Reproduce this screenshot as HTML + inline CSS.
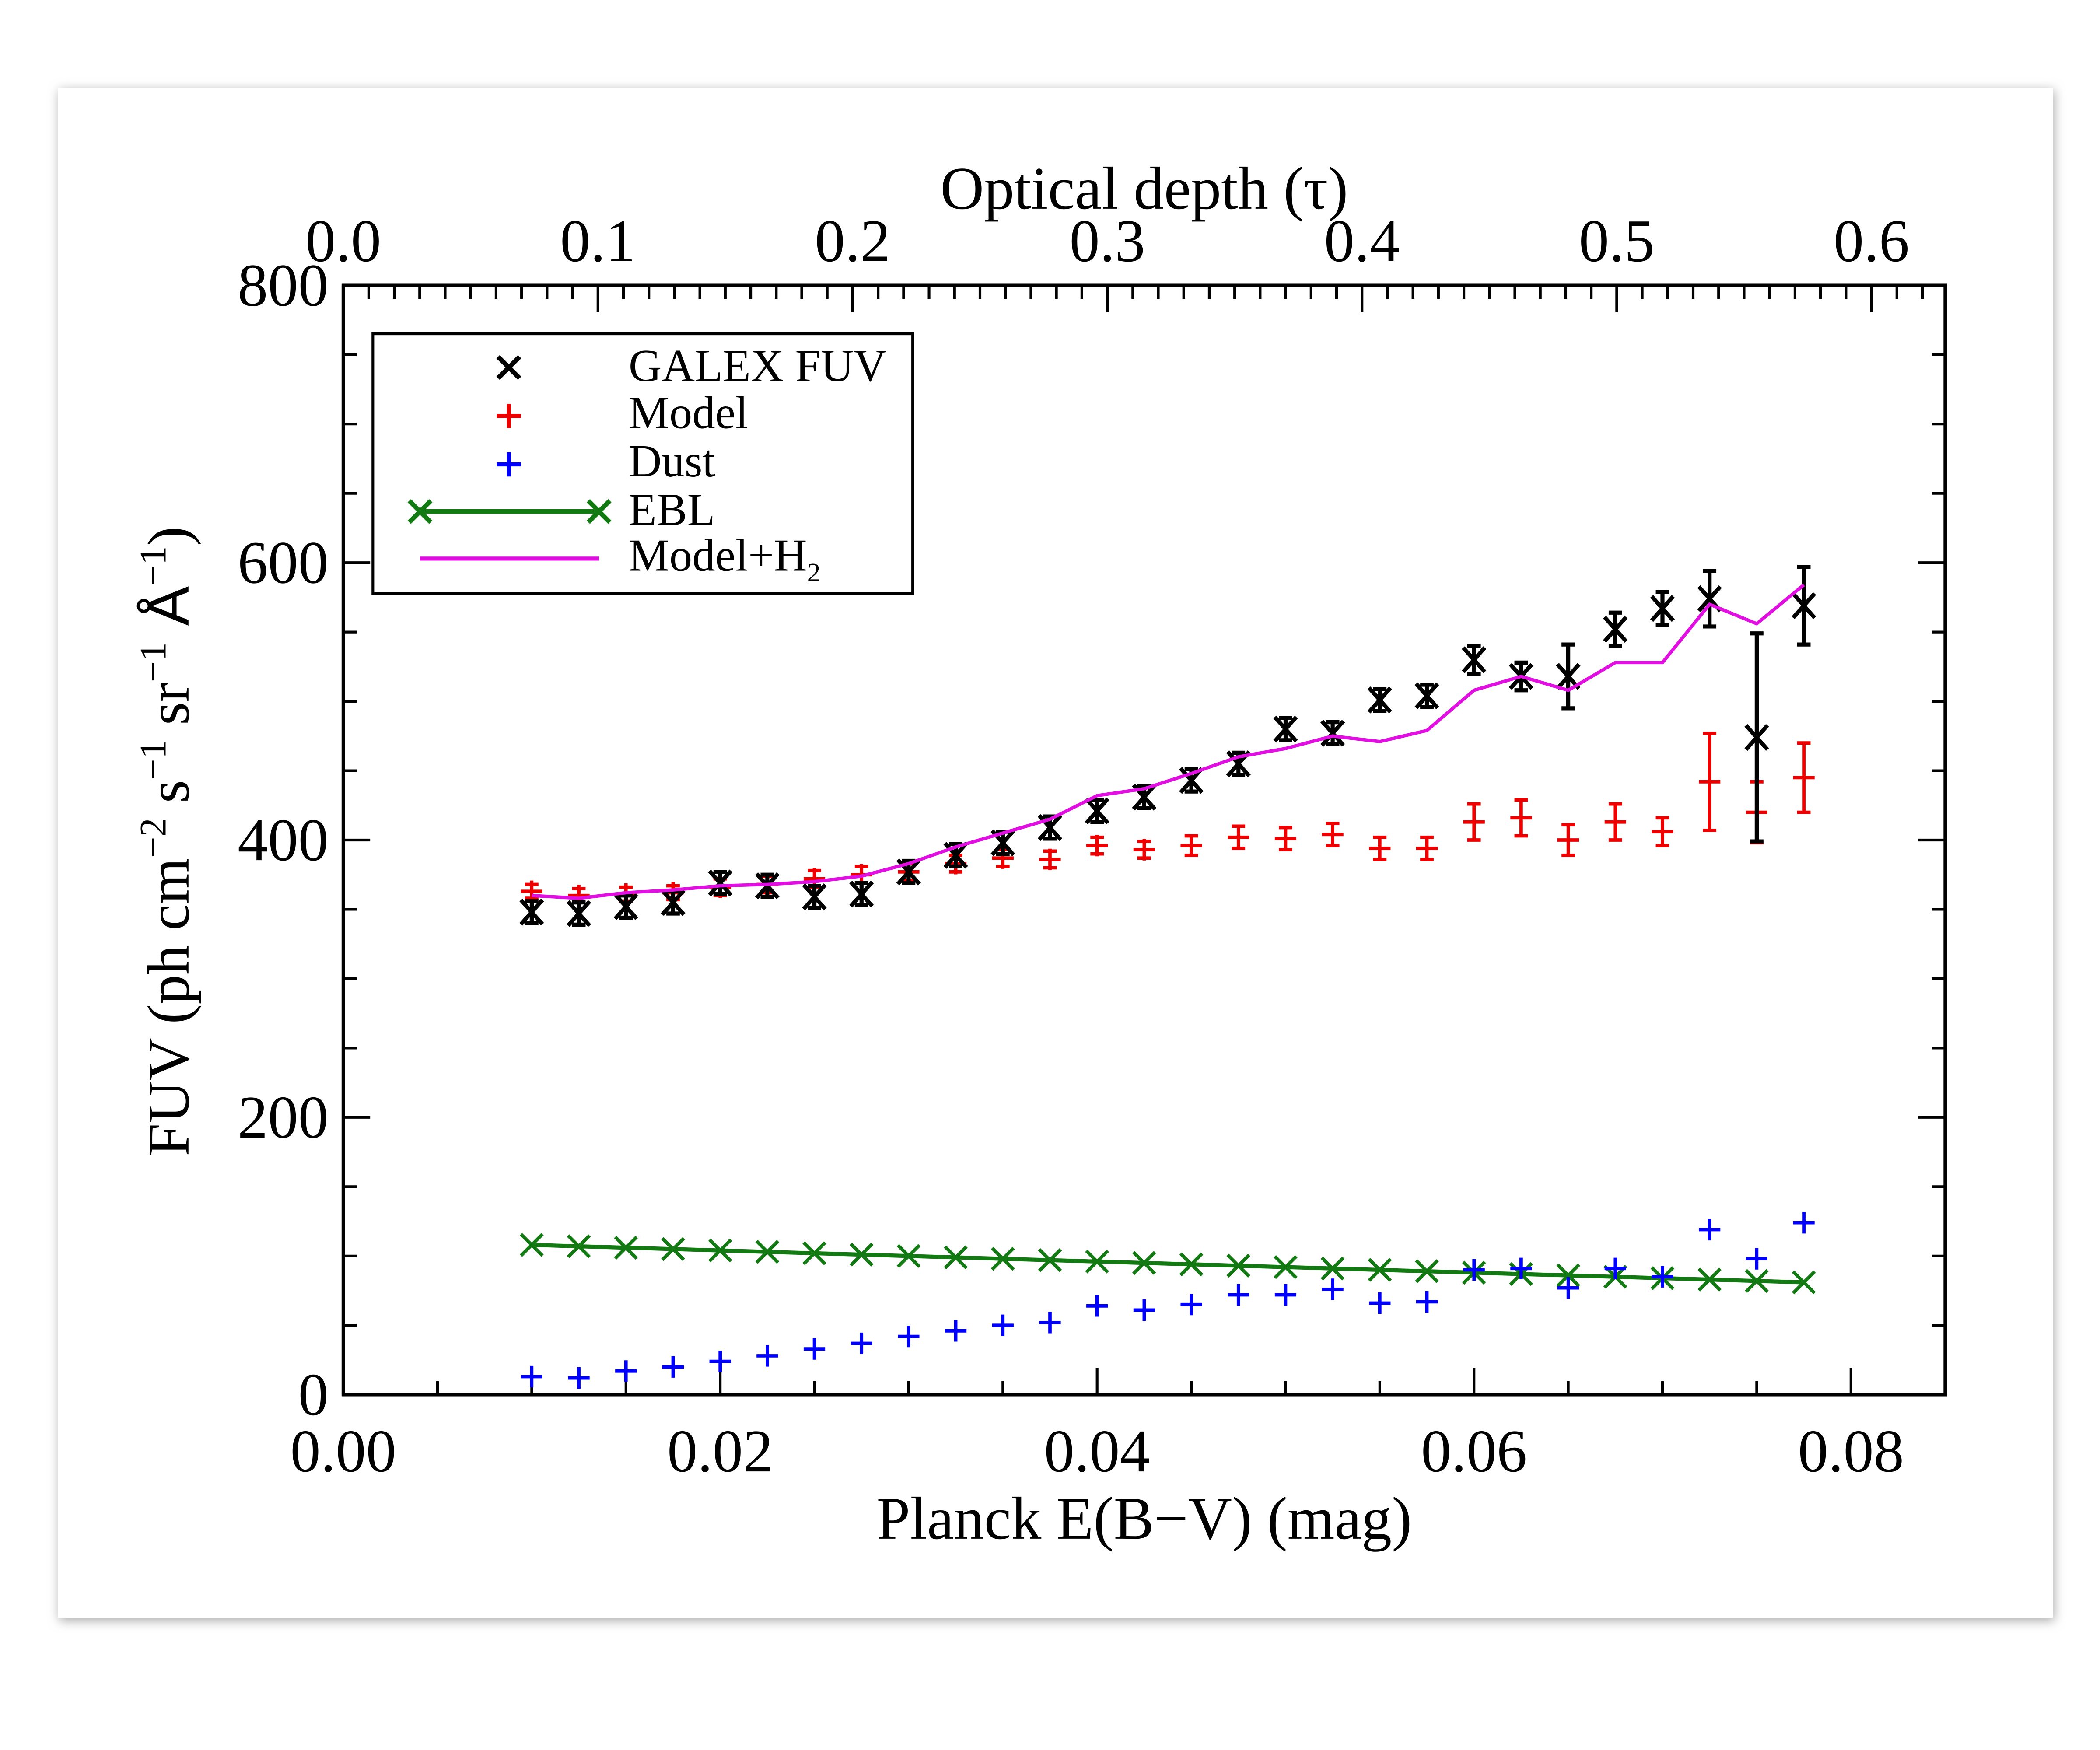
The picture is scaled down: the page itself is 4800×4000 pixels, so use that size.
<!DOCTYPE html>
<html><head><meta charset="utf-8"><style>
html,body{margin:0;padding:0;background:#fff;}
svg{display:block;font-family:"Liberation Serif",serif;}
</style></head><body>
<svg id="chart" width="4800" height="4000" viewBox="0 0 1560 1300" xmlns="http://www.w3.org/2000/svg">
<defs><filter id="sh" x="-5%" y="-5%" width="110%" height="110%"><feGaussianBlur stdDeviation="4"/></filter></defs>
<rect x="44" y="67" width="1482" height="1137" fill="#aaa" filter="url(#sh)"/>
<rect x="43" y="65" width="1482" height="1137" fill="#fff"/>
<g id="axes"></g>
<g id="marks"></g>
<rect x="255" y="212" width="1190" height="824" fill="none" stroke="#000" stroke-width="2.5"/>
<text x="850" y="1143" font-size="45" text-anchor="middle">Planck E(B−V) (mag)</text>
<text x="850" y="155" font-size="45" text-anchor="middle">Optical depth (τ)</text>
<text transform="translate(140,625) rotate(-90)" font-size="44" text-anchor="middle">FUV (ph cm<tspan font-size="28" dy="-17">−2</tspan><tspan dy="17"> s</tspan><tspan font-size="28" dy="-17">−1</tspan><tspan dy="17"> sr</tspan><tspan font-size="28" dy="-17">−1</tspan><tspan dy="17" font-family="Liberation Sans,sans-serif"> Å</tspan><tspan font-size="28" dy="-17">−1</tspan><tspan dy="17">)</tspan></text>
<g>
<rect x="277" y="248" width="401" height="193" fill="#fff" stroke="#000" stroke-width="2"/>
<g><path d="M370,265 L386,281 M386,265 L370,281" stroke="#000" stroke-width="3.5"/><text x="467" y="283" font-size="34">GALEX FUV</text></g>
<g><path d="M369,309 L387,309 M378,300 L378,318" stroke="#e00" stroke-width="3"/><text x="467" y="318" font-size="34">Model</text></g>
<g><path d="M369,345 L387,345 M378,336 L378,354" stroke="#00f" stroke-width="3"/><text x="467" y="354" font-size="34">Dust</text></g>
<g><path d="M312,380 L445,380 M304,372 L320,388 M320,372 L304,388 M437,372 L453,388 M453,372 L437,388" stroke="#137a13" stroke-width="3.5"/><text x="467" y="390" font-size="34">EBL</text></g>
<g><path d="M312,415 L445,415" stroke="#e010e0" stroke-width="3"/><text x="467" y="424" font-size="34">Model+H<tspan font-size="20" dy="8">2</tspan></text></g>
</g>
</svg>
<script>
const ebv=[0.010,0.0125,0.015,0.0175,0.020,0.0225,0.025,0.0275,0.030,0.0325,0.035,0.0375,0.040,0.0425,0.045,0.0475,0.050,0.0525,0.055,0.0575,0.060,0.0625,0.065,0.0675,0.070,0.0725,0.075,0.0775];
const galex=[348,347,352,355,369,367,359,361,377,389,398,409,421,431,443,455,480,477,501,504,530,518,518,552,567,574,474,569];
const galexErr=[8,8,8,8,8,8,8,8,8,8,8,8,8,8,8,8,8,8,8,8,10,10,23,12,12,20,75,28];
const model=[363,360,361,362,366,368,372,375,377,383,387,386,396,393,396,402,401,404,394,394,413,416,400,413,406,442,420,445];
const modelErr=[5,5,5,5,6,6,6,6,6,6,6,6,6,6,7,8,8,8,8,8,13,13,11,13,10,35,22,25];
const modelH2=[360,358,362,364,367,368,370,374,383,395,405,415,432,437,448,460,466,475,471,479,508,518,508,528,528,570,556,584];
const dust=[13,12,17,20,24,28,33,37,42,46,50,52,64,61,65,72,72,76,66,67,90,91,77,91,85,119,98,124];
const ebl=[108,107,106,105,104,103,102,101,100,99,98,97,96,95,94,93,92,91,90,89,88,87,86,85,84,83,82,81];
const xTicks=[0,0.02,0.04,0.06,0.08];
const xTickLabels=["0.00","0.02","0.04","0.06","0.08"];
const yTicks=[0,200,400,600,800];
const tauTicks=[0,0.1,0.2,0.3,0.4,0.5,0.6];
const tauTickLabels=["0.0","0.1","0.2","0.3","0.4","0.5","0.6"];

const NS="http://www.w3.org/2000/svg";
const X0=255,X1=1445,Y0=1036,Y1=212;
const xs=v=>X0+v*14000;
const ys=v=>Y0-v*(Y0-Y1)/800;
const ts=t=>X0+t*1892;
function mk(tag,attrs,parent){const e=document.createElementNS(NS,tag);for(const k in attrs)e.setAttribute(k,attrs[k]);parent.appendChild(e);return e;}
const ax=document.getElementById('axes'),mg=document.getElementById('marks');
for(let v=0;v<=0.0851;v+=0.005){const x=xs(v);const maj=Math.abs(v/0.02-Math.round(v/0.02))<1e-6;const L=maj?20:10;
 const t=mk('line',{x1:x,x2:x,y1:Y0,y2:Y0-L,stroke:'#000','stroke-width':2},ax);
 }
xTicks.forEach((v,i)=>{const t=mk('text',{x:xs(v),y:1093,'font-size':45,'text-anchor':'middle'},ax);t.textContent=xTickLabels[i];
 });
for(let i=0;i<=62;i++){const t=i/100;const x=ts(t);if(x>X1)break;const maj=i%10==0;const L=maj?20:10;
 const e=mk('line',{x1:x,x2:x,y1:Y1,y2:Y1+L,stroke:'#000','stroke-width':2},ax);
 }
tauTicks.forEach((v,i)=>{const t=mk('text',{x:ts(v),y:194,'font-size':45,'text-anchor':'middle'},ax);t.textContent=tauTickLabels[i];
 });
for(let v=0;v<=800;v+=50){const y=ys(v);const maj=v%200==0;const L=maj?20:10;
 const a=mk('line',{x1:X0,x2:X0+L,y1:y,y2:y,stroke:'#000','stroke-width':2},ax);
 
 const b=mk('line',{x1:X1,x2:X1-L,y1:y,y2:y,stroke:'#000','stroke-width':2},ax);
 }
yTicks.forEach(v=>{const t=mk('text',{x:244,y:ys(v)+15,'font-size':45,'text-anchor':'end'},ax);t.textContent=String(v);
 });

let d=ebv.map((v,i)=>(i?'L':'M')+xs(v)+','+ys(ebl[i])).join(' ');
const el=mk('path',{d:d,fill:'none',stroke:'#137a13','stroke-width':3},mg);

ebv.forEach((v,i)=>{const x=xs(v),y=ys(ebl[i]);const p=mk('path',{d:`M${x-8},${y-8}L${x+8},${y+8}M${x+8},${y-8}L${x-8},${y+8}`,stroke:'#137a13','stroke-width':2.5},mg);
 });
ebv.forEach((v,i)=>{const x=xs(v),y=ys(dust[i]);const p=mk('path',{d:`M${x-8},${y}L${x+8},${y}M${x},${y-8}L${x},${y+8}`,stroke:'#00f','stroke-width':2.5},mg);
 });
ebv.forEach((v,i)=>{const x=xs(v),y=ys(model[i]),e=modelErr[i]*1.03;const p=mk('path',{d:`M${x-8},${y}L${x+8},${y}M${x},${y-8}L${x},${y+8}M${x},${y-e}L${x},${y+e}M${x-5},${y-e}L${x+5},${y-e}M${x-5},${y+e}L${x+5},${y+e}`,stroke:'#e00','stroke-width':2.5},mg);
 });
ebv.forEach((v,i)=>{const x=xs(v),y=ys(galex[i]),e=galexErr[i]*1.03;const p=mk('path',{d:`M${x-8},${y-9}L${x+8},${y+9}M${x+8},${y-9}L${x-8},${y+9}M${x},${y-e}L${x},${y+e}M${x-5},${y-e}L${x+5},${y-e}M${x-5},${y+e}L${x+5},${y+e}`,stroke:'#000','stroke-width':3},mg);
 });
d=ebv.map((v,i)=>(i?'L':'M')+xs(v)+','+ys(modelH2[i])).join(' ');
const hl=mk('path',{d:d,fill:'none',stroke:'#e010e0','stroke-width':2.5},mg);

</script>
</body></html>
